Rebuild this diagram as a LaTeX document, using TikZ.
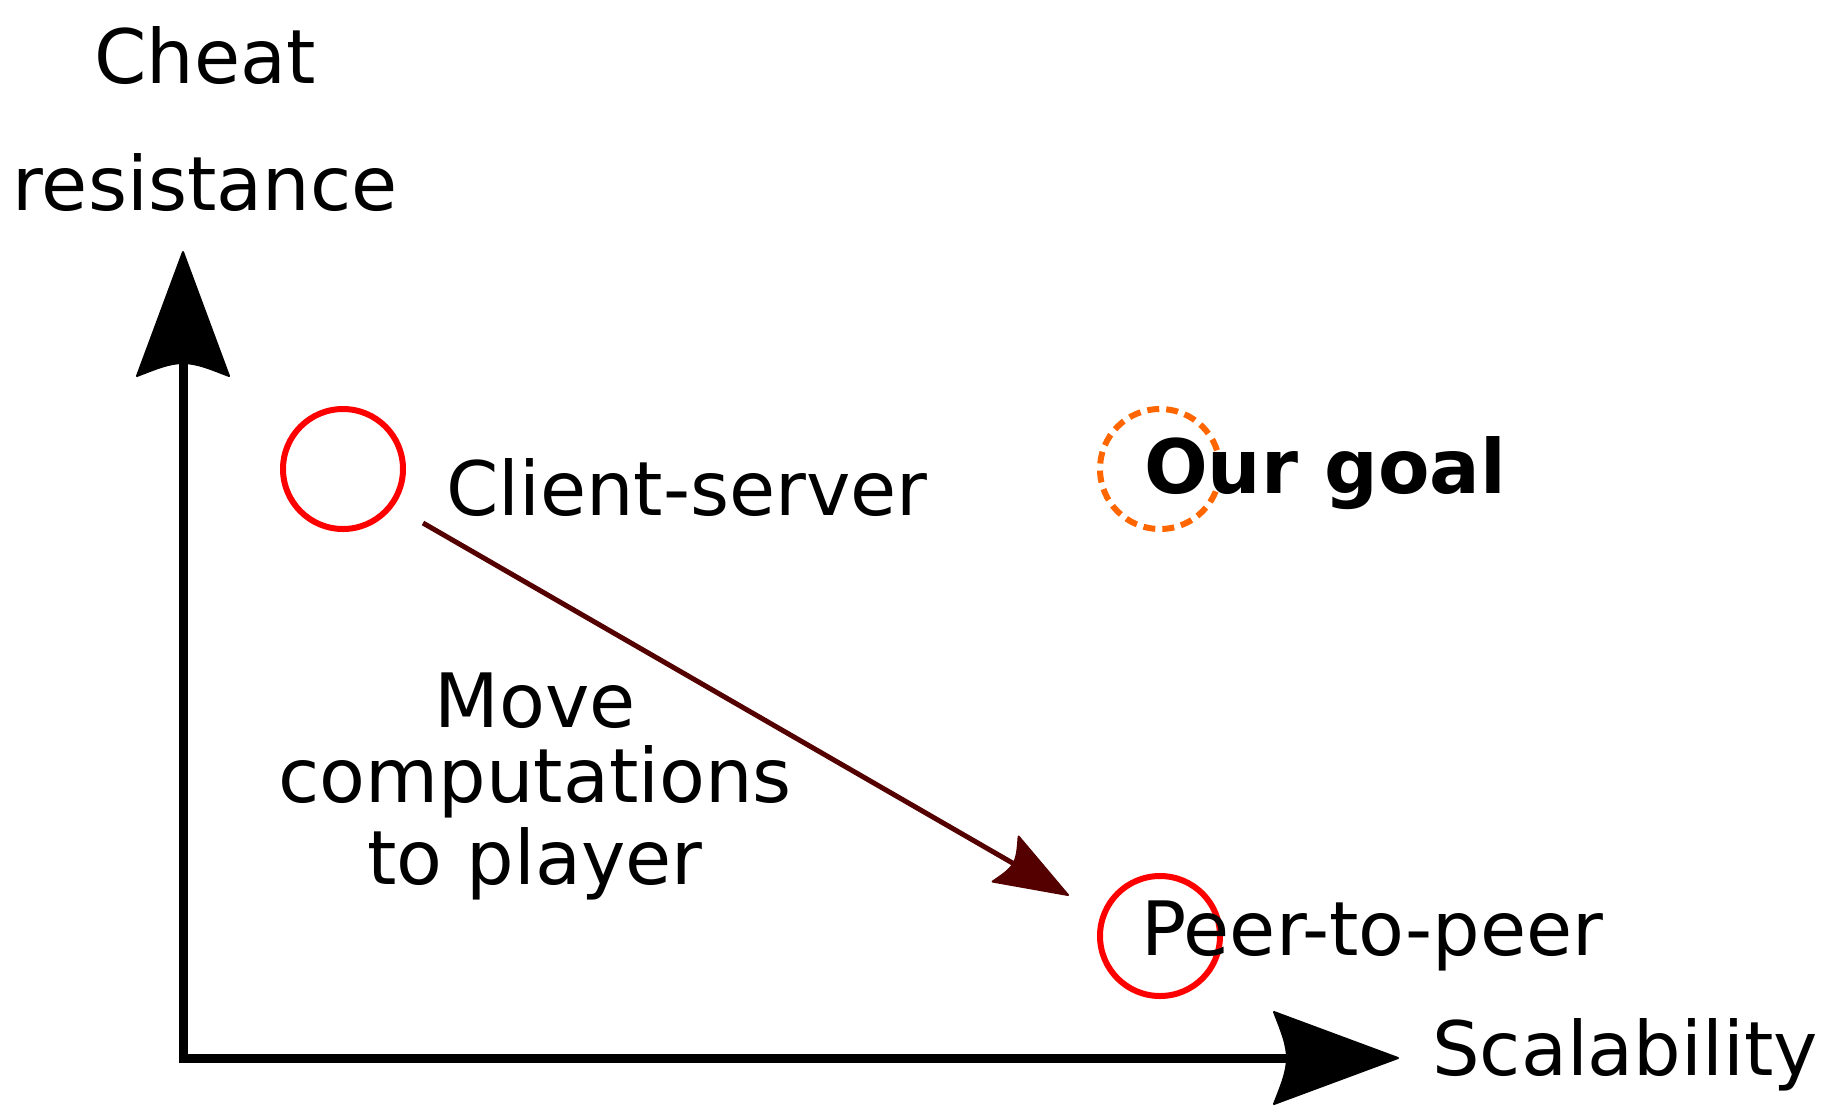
\documentclass[tikz,border=0pt]{standalone}
\usepackage{fontspec}
\setmainfont{DejaVu Sans}
\usetikzlibrary{arrows.meta}
\definecolor{goalorange}{HTML}{FF6600}
\definecolor{movebrown}{HTML}{550000}
\makeatletter
\pgfdeclarearrow{
  name = Hooked,
  parameters = {\the\pgfarrowlength,\the\pgfarrowwidth,\the\pgfarrowinset},
  setup code = {
    \pgfarrowssettipend{0pt}
    \pgfutil@tempdima=\pgfarrowinset
    \advance\pgfutil@tempdima by -\pgfarrowlength
    \advance\pgfutil@tempdima by 2pt
    \pgfarrowssetlineend{\pgfutil@tempdima}
    \pgfarrowsupperhullpoint{-\pgfarrowlength}{.5\pgfarrowwidth}
    \pgfarrowsupperhullpoint{0pt}{0pt}
    \pgfarrowssavethe\pgfarrowlength
    \pgfarrowssavethe\pgfarrowwidth
    \pgfarrowssavethe\pgfarrowinset
  },
  drawing code = {
    \pgfsetroundjoin
    \pgfsetlinewidth{2pt}
    \pgfpathmoveto{\pgfqpoint{0pt}{0pt}}
    \pgfpathlineto{\pgfpoint{-\pgfarrowlength}{.5*\pgfarrowwidth}}
    \pgfpathcurveto{\pgfpoint{-\pgfarrowlength+0.55*\pgfarrowinset}{0.3*\pgfarrowwidth}}
                   {\pgfpoint{-\pgfarrowlength+\pgfarrowinset}{0.15*\pgfarrowwidth}}
                   {\pgfpoint{-\pgfarrowlength+\pgfarrowinset}{0pt}}
    \pgfpathcurveto{\pgfpoint{-\pgfarrowlength+\pgfarrowinset}{-0.15*\pgfarrowwidth}}
                   {\pgfpoint{-\pgfarrowlength+0.55*\pgfarrowinset}{-0.3*\pgfarrowwidth}}
                   {\pgfpoint{-\pgfarrowlength}{-.5*\pgfarrowwidth}}
    \pgfpathclose
    \pgfusepathqfillstroke
  },
  defaults = {length=12pt, width=9pt, inset=2pt}
}
\makeatother
\tikzset{
  ring/.style={circle, draw=red, line width=6pt, minimum size=120pt, inner sep=0pt},
  goalring/.style={circle, draw=goalorange, line width=6pt, dash pattern=on 12pt off 7pt, minimum size=120pt, inner sep=0pt},
  bigtext/.style={inner sep=0pt, font=\fontsize{75pt}{75pt}\selectfont},
  lbl/.style={bigtext, anchor=base west},
  axisline/.style={line width=9pt, draw=black,
    arrows={Hooked[length=124pt,width=92pt,inset=13pt]-Hooked[length=124pt,width=92pt,inset=13pt]}},
  movearrow/.style={line width=5pt, draw=movebrown,
    arrows={-Hooked[length=72pt,width=52pt,inset=9pt]}}
}
\begin{document}
\begin{tikzpicture}[x=1pt,y=-1pt]
\useasboundingbox[fill=white] (0,0) rectangle (1823,1104);
% axes
\coordinate (ytip) at (183,252);
\coordinate (origin) at (183,1058);
\coordinate (xtip) at (1398,1058);
\draw[axisline] (ytip) -- (origin) -- (xtip);
% circles
\node[ring] (cs) at (343,469) {};
\node[ring] (p2p) at (1160,936) {};
\node[goalring] (goal) at (1160,469) {};
% labels
\node[bigtext, anchor=base, align=center, font=\fontsize{75pt}{127pt}\selectfont] (ylbl) at (205,210) {Cheat\\resistance};
\node[lbl] (xlbl) at (1432,1075) {Scalability};
\node[lbl] (cslbl) at (446,515) {Client-server};
\node[lbl, font=\fontsize{75pt}{75pt}\selectfont\bfseries] (goallbl) at (1144,493) {Our goal};
\node[lbl] (p2plbl) at (1141,955) {Peer-to-peer};
\node[bigtext, anchor=base, align=center, font=\fontsize{75pt}{75pt}\selectfont] (movelbl) at (535,884) {Move\\computations\\[7pt]to player};
% move arrow
\coordinate (mvS) at (423,523);
\coordinate (mvE) at (1068,895);
\draw[movearrow] (mvS) -- (mvE);
\end{tikzpicture}
\end{document}
